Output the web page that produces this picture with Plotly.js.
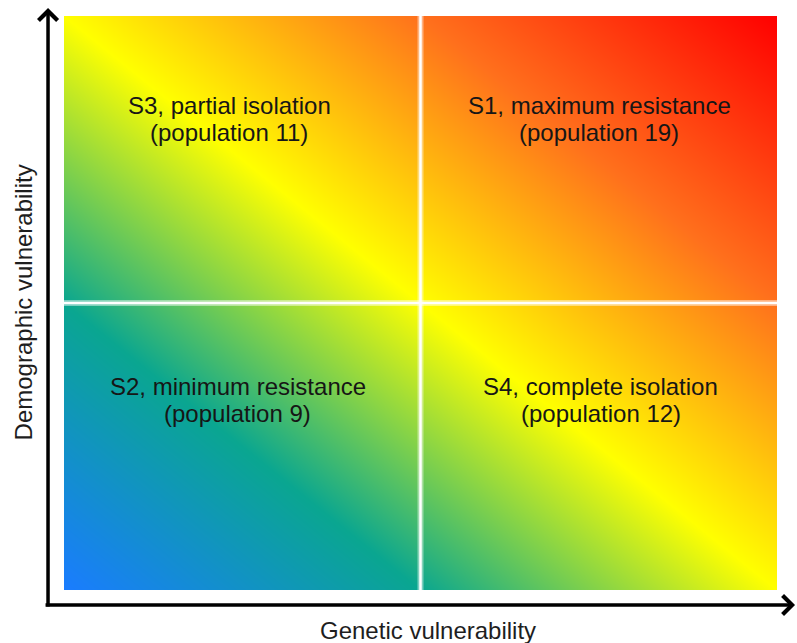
<!DOCTYPE html>
<html>
<head>
<meta charset="utf-8">
<script src="https://cdn.plot.ly/plotly-3.0.1.min.js"></script>
<style>html,body{margin:0;padding:0;background:#fff;}#chart{width:797px;height:643px;}</style>
</head>
<body>
<div id="chart"></div>
<script>
// Axes (normalised vulnerability) and gradient level at the four corners
var geneticAxis = [0, 1];
var demographicAxis = [0, 1];
var vulnerabilityLevel = [[0, 0.5], [0.5, 1]];

// Quadrant labels
var quadrantTitles = ['S3, partial isolation', 'S1, maximum resistance', 'S2, minimum resistance', 'S4, complete isolation'];
var quadrantPopulations = ['(population 11)', '(population 19)', '(population 9)', '(population 12)'];
var quadrantX = [0.232, 0.751, 0.244, 0.753];
var quadrantY1 = [0.844, 0.844, 0.354, 0.354];
var quadrantY2 = [0.797, 0.797, 0.308, 0.308];
var dividers = [0.5, 0.5];

var xTitle = 'Genetic vulnerability';
var yTitle = 'Demographic vulnerability';

var FONT = '"Liberation Sans", Arial, Helvetica, sans-serif';

var trace = {
  type: 'heatmap',
  x: geneticAxis,
  y: demographicAxis,
  z: vulnerabilityLevel,
  zmin: 0, zmax: 1,
  zsmooth: 'best',
  showscale: false,
  hoverinfo: 'skip',
  colorscale: [
    [0, '#1a7cff'],
    [0.25, '#0aa690'],
    [0.5, '#ffff00'],
    [0.75, '#ff701c'],
    [1, '#ff0000']
  ]
};

var annotations = [];
for (var i = 0; i < quadrantTitles.length; i++) {
  annotations.push({xref: 'x', yref: 'y', x: quadrantX[i], y: quadrantY1[i], text: quadrantTitles[i],
    showarrow: false, xanchor: 'center', yanchor: 'middle', font: {family: FONT, size: 24, color: '#161616'}});
  annotations.push({xref: 'x', yref: 'y', x: quadrantX[i], y: quadrantY2[i], text: quadrantPopulations[i],
    showarrow: false, xanchor: 'center', yanchor: 'middle', font: {family: FONT, size: 24, color: '#161616'}});
}
// axis titles
annotations.push({xref: 'paper', yref: 'paper', x: 0.5105, y: -0.0714, text: xTitle, showarrow: false,
  xanchor: 'center', yanchor: 'middle', font: {family: FONT, size: 24, color: '#1e1e1e'}});
annotations.push({xref: 'paper', yref: 'paper', x: -0.0575, y: 0.501, text: yTitle, showarrow: false, textangle: -90,
  xanchor: 'center', yanchor: 'middle', font: {family: FONT, size: 24, color: '#1e1e1e'}});
// axis arrows
annotations.push({xref: 'paper', yref: 'paper', x: -0.0224, y: 1.0139, ax: 0, ay: 600, axref: 'pixel', ayref: 'pixel',
  text: '', showarrow: true, arrowhead: 4, arrowsize: 1.05, arrowwidth: 3.5, arrowcolor: '#000', standoff: 0, startstandoff: 0});
annotations.push({xref: 'paper', yref: 'paper', x: 1.0253, y: -0.0261, ax: -751, ay: 0, axref: 'pixel', ayref: 'pixel',
  text: '', showarrow: true, arrowhead: 4, arrowsize: 1.05, arrowwidth: 3.5, arrowcolor: '#000', standoff: 0, startstandoff: 0});

var shapes = [
  {type: 'line', xref: 'x', yref: 'paper', x0: dividers[0], x1: dividers[0], y0: 0, y1: 1, line: {color: 'rgba(255,255,255,0.45)', width: 6}},
  {type: 'line', xref: 'paper', yref: 'y', x0: 0, x1: 1, y0: dividers[1], y1: dividers[1], line: {color: 'rgba(255,255,255,0.45)', width: 6}},
  {type: 'line', xref: 'x', yref: 'paper', x0: dividers[0], x1: dividers[0], y0: 0, y1: 1, line: {color: '#ffffff', width: 2.5}},
  {type: 'line', xref: 'paper', yref: 'y', x0: 0, x1: 1, y0: dividers[1], y1: dividers[1], line: {color: '#ffffff', width: 2.5}}
];

var layout = {
  width: 797, height: 643,
  margin: {l: 64, r: 20, t: 16, b: 53, pad: 0},
  paper_bgcolor: '#ffffff', plot_bgcolor: '#ffffff',
  xaxis: {range: [0, 1], visible: false, fixedrange: true},
  yaxis: {range: [0, 1], visible: false, fixedrange: true},
  showlegend: false,
  annotations: annotations,
  shapes: shapes
};

Plotly.newPlot('chart', [trace], layout, {displayModeBar: false, staticPlot: true});
</script>
</body>
</html>
